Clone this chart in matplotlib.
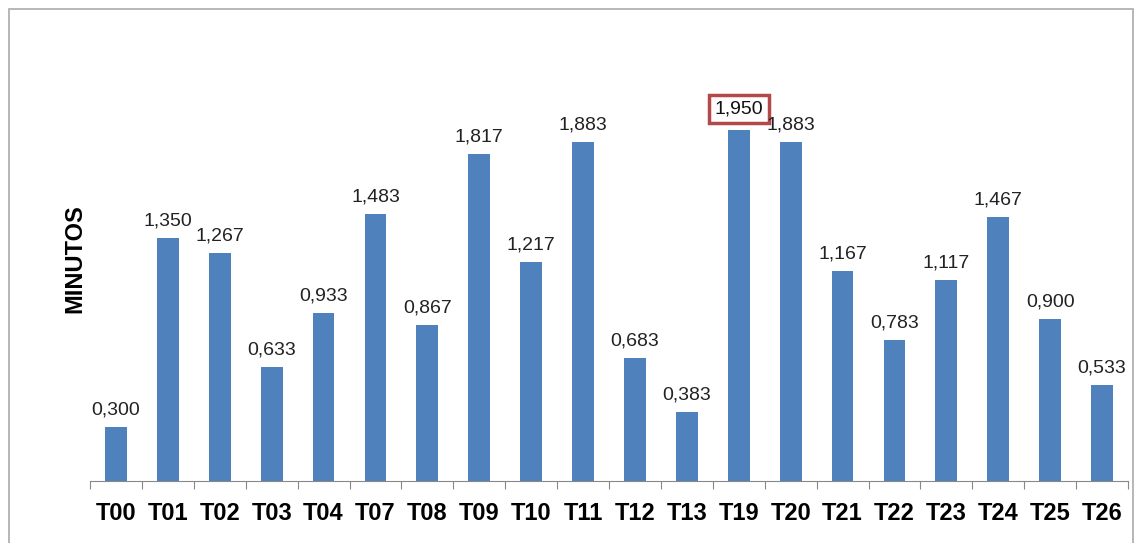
import matplotlib
matplotlib.use('Agg')
import matplotlib.pyplot as plt
from matplotlib.patches import Rectangle

CATEGORIES = ['T00', 'T01', 'T02', 'T03', 'T04', 'T07', 'T08', 'T09', 'T10', 'T11',
              'T12', 'T13', 'T19', 'T20', 'T21', 'T22', 'T23', 'T24', 'T25', 'T26']
MINUTES = [0.300, 1.350, 1.267, 0.633, 0.933, 1.483, 0.867, 1.817, 1.217, 1.883,
           0.683, 0.383, 1.950, 1.883, 1.167, 0.783, 1.117, 1.467, 0.900, 0.533]
HIGHLIGHT = 'T19'
Y_LABEL = 'MINUTOS'

BAR_COLOR = '#4F81BD'

plt.rcParams['font.family'] = ['Liberation Sans', 'DejaVu Sans']

fig = plt.figure(figsize=(11.39, 5.43), dpi=100)
ax = fig.add_axes([90 / 1139, 62 / 543, 1038 / 1139, 450 / 543])

x = list(range(len(CATEGORIES)))
ax.bar(x, MINUTES, width=0.42, color=BAR_COLOR, zorder=2)
ax.set_xlim(-0.5, len(CATEGORIES) - 0.5)
ax.set_ylim(0, 2.5)

for xi, cat, val in zip(x, CATEGORIES, MINUTES):
    label = f'{val:.3f}'.replace('.', ',')
    if cat == HIGHLIGHT:
        ax.annotate(label, (xi, val), xytext=(0, 9), textcoords='offset points',
                    ha='center', va='bottom', fontsize=14, color='#111111',
                    bbox=dict(boxstyle='square,pad=0.28', fc='white', ec='#B5494A', lw=2.5))
    else:
        ax.annotate(label, (xi, val), xytext=(0, 6), textcoords='offset points',
                    ha='center', va='bottom', fontsize=14, color='#222222')

# category ticks at boundaries
ax.set_xticks([i - 0.5 for i in range(len(CATEGORIES) + 1)], minor=False)
ax.set_xticklabels([])
ax.tick_params(axis='x', which='major', length=6, color='#888888', direction='out')
ax.set_xticks(x, minor=True)
ax.set_xticklabels(CATEGORIES, minor=True, fontsize=17, fontweight='bold')
ax.tick_params(axis='x', which='minor', length=0, pad=15)

ax.set_yticks([])
for side in ['top', 'right', 'left']:
    ax.spines[side].set_visible(False)
ax.spines['bottom'].set_color('#888888')

fig.text(75 / 1139, 1 - 259 / 543, Y_LABEL, rotation=90, ha='center', va='center',
         fontsize=17, fontweight='bold')

# outer chart border
fig.patches.append(Rectangle((9 / 1139, -0.05), 1124 / 1139, 1.05 - 9 / 543,
                             transform=fig.transFigure, fill=False,
                             ec='#AAAAAA', lw=1.2))

fig.savefig('out.png', dpi=100)
